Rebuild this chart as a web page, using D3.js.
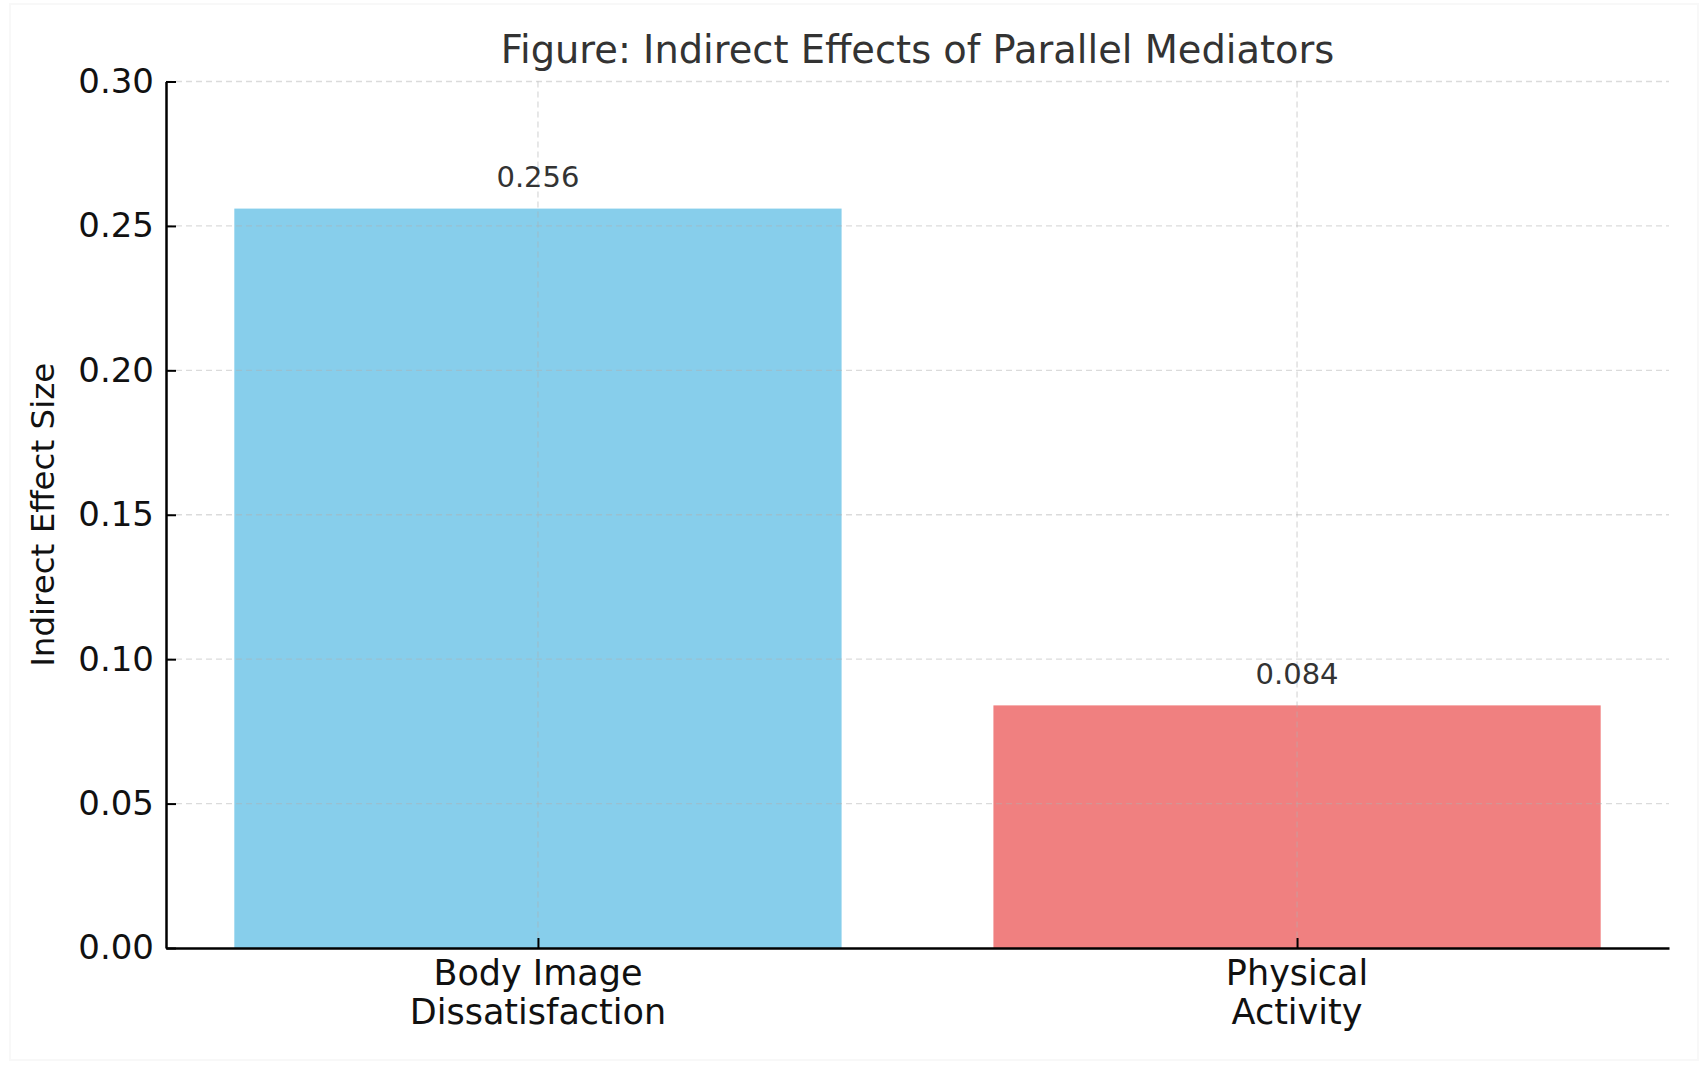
<!doctype html>
<html lang="en">
  <head>
    <meta charset="utf-8">
    <title>Indirect Effects of Parallel Mediators</title>
    <script src="https://cdn.jsdelivr.net/npm/d3@7"></script>
    <style>
      body { margin: 0; background: #fff; }
      text { font-family: "DejaVu Sans", sans-serif; }
    </style>
  </head>
  <body>
    <script>
      // data
      const mediators = [["Body Image", "Dissatisfaction"], ["Physical", "Activity"]];
      const effects = [0.256, 0.084];
      const barColors = ["#87ceeb", "#f08080"];
      const yTicks = [0, 0.05, 0.10, 0.15, 0.20, 0.25, 0.30];

      const w = 1704;
      const h = 1068;
      const padL = 166, padR = 1669, padT = 81.5, padB = 948;

      const xScale = d3.scaleLinear()
                       .domain([-0.49, 1.49])
                       .range([padL, padR]);
      const yScale = d3.scaleLinear()
                       .domain([0, 0.30])
                       .range([padB, padT]);
      const barW = xScale(0.8) - xScale(0);

      const svg = d3.select("body")
                    .append("svg")
                    .attr("width", w)
                    .attr("height", h);

      // faint frame round the picture
      svg.append("rect")
         .attr("x", 10).attr("y", 4)
         .attr("width", w - 16).attr("height", h - 12)
         .attr("fill", "none")
         .attr("stroke", "#f8f8f8")
         .attr("stroke-width", 2);

      svg.selectAll("rect.bar")
         .data(effects)
         .enter()
         .append("rect")
         .attr("class", "bar")
         .attr("x", (d, i) => xScale(i) - barW / 2)
         .attr("y", d => yScale(d))
         .attr("width", barW)
         .attr("height", d => padB - yScale(d))
         .attr("fill", (d, i) => barColors[i]);

      // dashed grid, drawn over the bars
      const grid = svg.append("g")
                      .attr("stroke", "#b0b0b0")
                      .attr("stroke-opacity", 0.45)
                      .attr("stroke-width", 1.3)
                      .attr("stroke-dasharray", "6,4");
      grid.selectAll("line.h")
          .data(yTicks.slice(1))
          .enter()
          .append("line")
          .attr("class", "h")
          .attr("x1", padL).attr("x2", padR)
          .attr("y1", d => yScale(d)).attr("y2", d => yScale(d));
      grid.selectAll("line.v")
          .data(effects)
          .enter()
          .append("line")
          .attr("class", "v")
          .attr("x1", (d, i) => xScale(i)).attr("x2", (d, i) => xScale(i))
          .attr("y1", padT).attr("y2", padB);

      const yAxis = d3.axisLeft(yScale)
                      .tickValues(yTicks)
                      .tickFormat(d3.format(".2f"))
                      .tickSizeInner(-10)
                      .tickSizeOuter(0)
                      .tickPadding(12);
      const gy = svg.append("g")
                    .attr("id", "y-axis")
                    .attr("transform", "translate(" + padL + ",0)")
                    .call(yAxis);
      gy.select(".domain").attr("stroke", "#000").attr("stroke-width", 2.5);
      gy.selectAll(".tick line").attr("stroke", "#000").attr("stroke-width", 2);
      gy.selectAll(".tick text")
        .attr("font-size", 34)
        .attr("fill", "#111")
        .attr("font-family", "DejaVu Sans");

      const xAxis = d3.axisBottom(xScale)
                      .tickValues([0, 1])
                      .tickFormat("")
                      .tickSizeInner(-10)
                      .tickSizeOuter(0);
      const gx = svg.append("g")
                    .attr("id", "x-axis")
                    .attr("transform", "translate(0," + padB + ")")
                    .call(xAxis);
      gx.select(".domain").attr("stroke", "#000").attr("stroke-width", 2.5);
      gx.selectAll(".tick line").attr("stroke", "#000").attr("stroke-width", 2);

      // two-line category labels
      const cat = svg.selectAll("text.cat")
                     .data(mediators)
                     .enter()
                     .append("text")
                     .attr("class", "cat")
                     .attr("text-anchor", "middle")
                     .attr("font-size", 35)
                     .attr("fill", "#111");
      cat.each(function (d, i) {
        d3.select(this).selectAll("tspan")
          .data(d)
          .enter()
          .append("tspan")
          .attr("x", xScale(i))
          .attr("y", (s, j) => 985 + j * 39)
          .text(s => s);
      });

      // value labels
      svg.selectAll("text.val")
         .data(effects)
         .enter()
         .append("text")
         .attr("class", "val")
         .attr("x", (d, i) => xScale(i))
         .attr("y", d => yScale(d + 0.005) - 7)
         .attr("text-anchor", "middle")
         .attr("font-size", 29)
         .attr("fill", "#333")
         .text(d => d.toFixed(3));

      svg.append("text")
         .attr("x", (padL + padR) / 2)
         .attr("y", 63)
         .attr("text-anchor", "middle")
         .attr("font-size", 38.4)
         .attr("fill", "#333")
         .text("Figure: Indirect Effects of Parallel Mediators");

      svg.append("text")
         .attr("transform", "translate(54," + (padT + padB) / 2 + ") rotate(-90)")
         .attr("text-anchor", "middle")
         .attr("font-size", 32.5)
         .attr("fill", "#111")
         .text("Indirect Effect Size");
    </script>
  </body>
</html>
